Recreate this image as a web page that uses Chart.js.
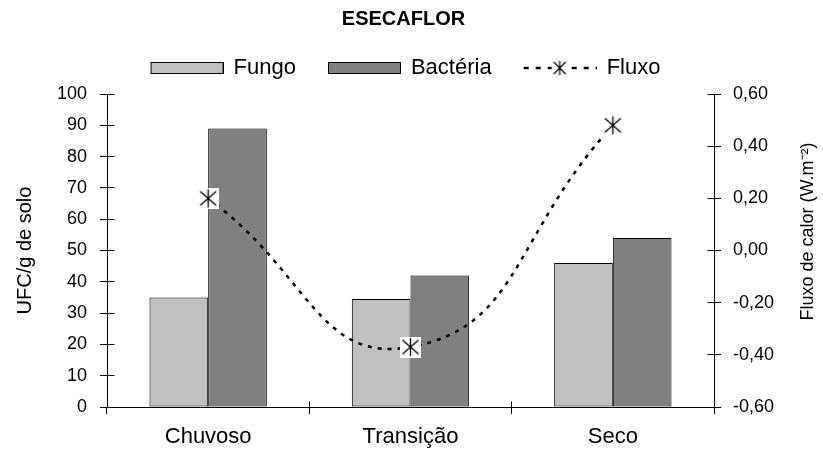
<!DOCTYPE html>
<html>
<head>
<meta charset="utf-8">
<script src="https://cdn.jsdelivr.net/npm/chart.js@4"></script>
<style>
html,body{margin:0;padding:0;background:#fff;}
canvas{display:block;}
</style>
</head>
<body>
<canvas id="c" width="823" height="450"></canvas>
<script>
const chartTitle = 'ESECAFLOR';
const categories = ['Chuvoso', 'Transição', 'Seco'];
const fungoValues = [35, 34.5, 46];
const bacteriaValues = [89, 42, 54];
const fluxoValues = [0.20, -0.37, 0.48];
const seriesNames = ['Fungo', 'Bactéria', 'Fluxo'];
const leftTickLabels = ['0', '10', '20', '30', '40', '50', '60', '70', '80', '90', '100'];
const rightTickLabels = ['-0,60', '-0,40', '-0,20', '0,00', '0,20', '0,40', '0,60'];
const leftAxisTitle = 'UFC/g de solo';
const rightAxisTitle = 'Fluxo de calor (W.m⁻²)';

Chart.defaults.font.family = '"Liberation Sans", Arial, Helvetica, sans-serif';
Chart.defaults.color = '#000';

function drawAsterisk(ctx, cx, cy, rx, ry, rv) {
  ctx.beginPath();
  ctx.moveTo(cx - rx, cy - ry); ctx.lineTo(cx + rx, cy + ry);
  ctx.moveTo(cx + rx, cy - ry); ctx.lineTo(cx - rx, cy + ry);
  ctx.moveTo(cx, cy - rv); ctx.lineTo(cx, cy + rv);
  ctx.stroke();
}

function makeStarPoint() {
  const c = document.createElement('canvas');
  c.width = 21; c.height = 21;
  const g = c.getContext('2d');
  g.fillStyle = '#fff';
  g.fillRect(0, 0, 21, 21);
  g.strokeStyle = '#000';
  g.lineWidth = 1.3;
  drawAsterisk(g, 10.5, 10.5, 8, 7, 9);
  return c;
}

function makeBoxIcon(color) {
  const c = document.createElement('canvas');
  c.width = 78; c.height = 16;
  const g = c.getContext('2d');
  g.fillStyle = color;
  g.fillRect(5.5, 2.5, 72, 11);
  g.strokeStyle = '#000';
  g.lineWidth = 1;
  g.strokeRect(5.5, 2.5, 72, 11);
  return c;
}

function makeLineIcon() {
  const c = document.createElement('canvas');
  c.width = 78; c.height = 16;
  const g = c.getContext('2d');
  g.strokeStyle = '#000';
  g.lineWidth = 2.5;
  g.setLineDash([5, 7]);
  g.beginPath(); g.moveTo(5, 8); g.lineTo(78, 8); g.stroke();
  g.setLineDash([]);
  g.fillStyle = '#fff';
  g.fillRect(33, 0, 16, 16);
  g.lineWidth = 1.2;
  drawAsterisk(g, 41, 8, 6, 6, 7);
  return c;
}

const starPoint = makeStarPoint();
const legendIcons = [makeBoxIcon('#C0C0C0'), makeBoxIcon('#808080'), makeLineIcon()];

const extras = {
  id: 'extras',
  afterDraw(chart) {
    const ctx = chart.ctx, a = chart.chartArea;
    const {x, y, y1} = chart.scales;
    const al = p => Math.round(p - 0.5) + 0.5;
    ctx.save();
    ctx.strokeStyle = '#000';
    ctx.lineWidth = 1;
    ctx.beginPath();
    y.ticks.forEach(t => { const py = al(y.getPixelForValue(t.value)); ctx.moveTo(al(a.left), py); ctx.lineTo(al(a.left) + 7, py); });
    y1.ticks.forEach(t => { const py = al(y1.getPixelForValue(t.value)); ctx.moveTo(al(a.right), py); ctx.lineTo(al(a.right) - 7, py); });
    for (let i = 0; i <= categories.length; i++) {
      const px = al(x.getPixelForValue(i - 0.5));
      ctx.moveTo(px, al(a.bottom)); ctx.lineTo(px, al(a.bottom) - 6);
    }
    ctx.stroke();
    ctx.font = '18px "Liberation Sans", Arial, sans-serif';
    ctx.fillStyle = '#000';
    ctx.textAlign = 'center';
    ctx.textBaseline = 'middle';
    ctx.translate(chart.width - 15, (a.top + a.bottom) / 2 - 19);
    ctx.rotate(-Math.PI / 2);
    ctx.fillText(rightAxisTitle, 0, 0);
    ctx.restore();
  }
};

const axisGrid = { drawOnChartArea: false, drawTicks: true, tickLength: 7, color: '#000', lineWidth: 1 };

new Chart(document.getElementById('c'), {
  type: 'bar',
  data: {
    labels: categories,
    datasets: [
      { label: seriesNames[0], data: fungoValues, backgroundColor: '#C0C0C0', borderColor: '#000', borderWidth: 1, borderSkipped: false, yAxisID: 'y', order: 1, categoryPercentage: 0.58, barPercentage: 1.0 },
      { label: seriesNames[1], data: bacteriaValues, backgroundColor: '#808080', borderColor: '#000', borderWidth: 1, borderSkipped: false, yAxisID: 'y', order: 1, categoryPercentage: 0.58, barPercentage: 1.0 },
      { label: seriesNames[2], data: fluxoValues, type: 'line', yAxisID: 'y1', order: 0, borderColor: '#000', borderWidth: 2.5, borderDash: [4, 6], tension: 0.5, fill: false, pointStyle: starPoint, pointRadius: 10, pointHoverRadius: 10 }
    ]
  },
  options: {
    responsive: false,
    animation: false,
    devicePixelRatio: 1,
    layout: { padding: { left: 0, right: 16, top: 0, bottom: 0 } },
    plugins: {
      title: { display: true, text: chartTitle, color: '#000', font: { size: 20, weight: 'bold', lineHeight: 1 }, padding: { top: 9, bottom: 0 } },
      subtitle: { display: true, text: '', weight: 500, font: { size: 5, lineHeight: 1 }, padding: 0 },
      legend: {
        display: true,
        position: 'top',
        labels: {
          usePointStyle: true,
          pointStyleWidth: 76,
          padding: 28,
          color: '#000',
          font: { size: 22 },
          generateLabels: () => seriesNames.map((name, i) => ({
            text: name, pointStyle: legendIcons[i], fillStyle: 'transparent', strokeStyle: 'transparent',
            lineWidth: 0, hidden: false, datasetIndex: i, fontColor: '#000'
          }))
        }
      },
      tooltip: { enabled: false }
    },
    scales: {
      x: {
        type: 'category',
        offset: true,
        grid: Object.assign({ offset: true }, axisGrid),
        border: { display: true, color: '#000', width: 1 },
        ticks: { color: '#000', font: { size: 22 }, padding: 10, maxRotation: 0 },
        afterFit: s => { s.height = 43; }
      },
      y: {
        position: 'left',
        min: 0, max: 100,
        ticks: { stepSize: 10, color: '#000', font: { size: 18 }, padding: 13, callback: (v, i) => leftTickLabels[i] },
        grid: axisGrid,
        border: { display: true, color: '#000', width: 1 },
        title: { display: true, text: leftAxisTitle, color: '#000', font: { size: 20 }, padding: { top: 13, bottom: 0 } },
        afterFit: s => { s.width = 107; }
      },
      y1: {
        position: 'right',
        min: -0.6, max: 0.6,
        ticks: { stepSize: 0.2, color: '#000', font: { size: 18 }, padding: 12, callback: (v, i) => rightTickLabels[i] },
        grid: axisGrid,
        border: { display: true, color: '#000', width: 1 },
        afterFit: s => { s.width = 823 - 16 - 714; }
      }
    }
  },
  plugins: [extras]
});
</script>
</body>
</html>
